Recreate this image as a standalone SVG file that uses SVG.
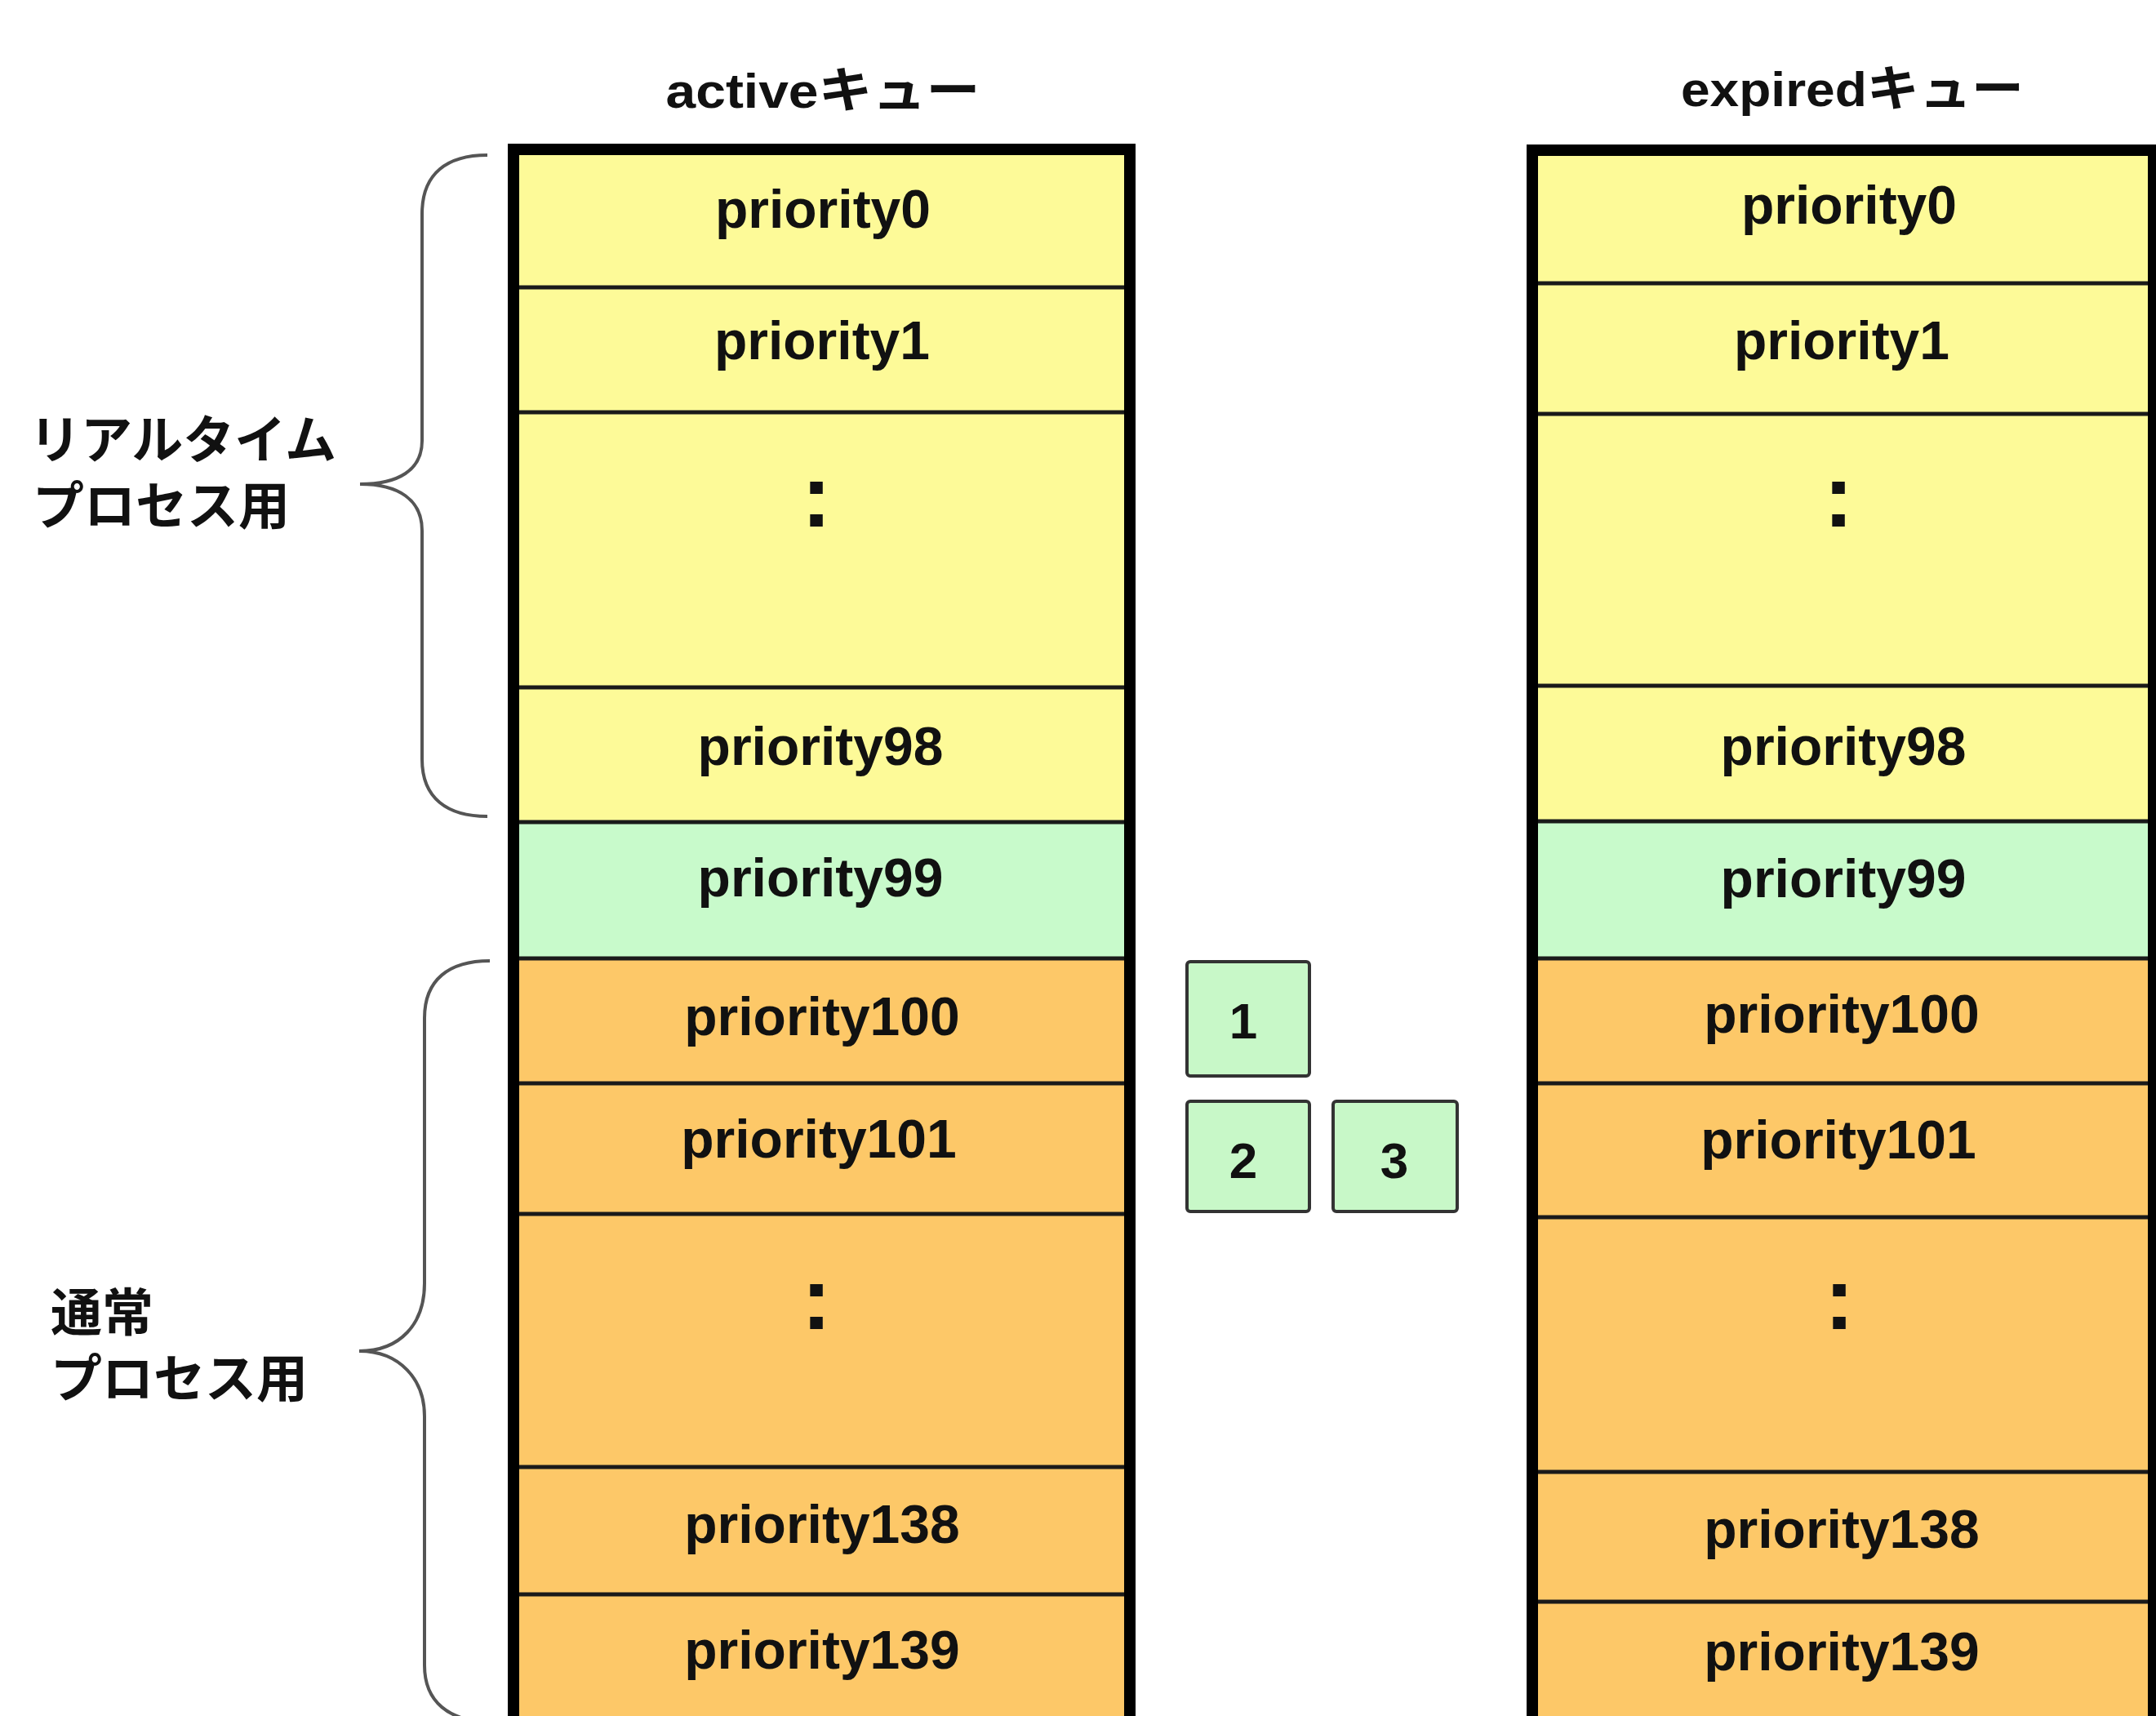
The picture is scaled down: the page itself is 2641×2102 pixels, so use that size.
<svg xmlns="http://www.w3.org/2000/svg" width="2641" height="2102" viewBox="0 0 2641 2102">
  <style>
    .title { font-family: "Liberation Sans", "Noto Sans CJK JP", sans-serif; font-weight: bold; font-size: 60px; fill: #111; text-anchor: middle; }
    .side { font-family: "Noto Sans CJK JP", sans-serif; font-weight: bold; font-size: 63px; fill: #111; }
    .lbl { font-family: "Liberation Sans", sans-serif; font-weight: bold; font-size: 66px; fill: #111; text-anchor: middle; }
    .dots { font-family: "Liberation Sans", sans-serif; font-weight: bold; font-size: 110px; fill: #111; text-anchor: middle; }
    .num { font-family: "Liberation Sans", sans-serif; font-weight: bold; font-size: 62px; fill: #111; text-anchor: middle; }
    .rt { fill: #FDFA98; }
    .mid { fill: #C8FACB; }
    .nrm { fill: #FDC868; }
    .sep { stroke: #1a1a1a; stroke-width: 5; fill: none; }
    .frame { stroke: #000; stroke-width: 14; fill: none; stroke-linejoin: miter; }
    .brace { stroke: #555; stroke-width: 4; fill: none; }
    .task { fill: #C8F8C8; stroke: #333; stroke-width: 4; }
  </style>

  <rect width="2641" height="2102" fill="#fff"/>

  <!-- active queue -->
  <g id="active-queue">
    <text class="title" x="1008" y="132" textLength="385" lengthAdjust="spacingAndGlyphs">activeキュー</text>
    <rect class="rt" x="629" y="183" width="755" height="659"/>
    <rect class="mid" x="629" y="842" width="755" height="165"/>
    <rect class="mid" x="629" y="1007" width="755" height="167"/>
    <rect class="rt" x="629" y="842" width="755" height="165"/>
    <rect class="nrm" x="629" y="1174" width="755" height="940"/>
    <g class="sep">
      <line x1="629" y1="352" x2="1384" y2="352"/>
      <line x1="629" y1="505" x2="1384" y2="505"/>
      <line x1="629" y1="842" x2="1384" y2="842"/>
      <line x1="629" y1="1007" x2="1384" y2="1007"/>
      <line x1="629" y1="1174" x2="1384" y2="1174"/>
      <line x1="629" y1="1327" x2="1384" y2="1327"/>
      <line x1="629" y1="1487" x2="1384" y2="1487"/>
      <line x1="629" y1="1797" x2="1384" y2="1797"/>
      <line x1="629" y1="1953" x2="1384" y2="1953"/>
    </g>
    <path class="frame" d="M629,2110 V183 H1384 V2110"/>
    <text class="lbl" x="1008" y="279">priority0</text>
    <text class="lbl" x="1007" y="440">priority1</text>
    <text class="dots" x="1000" y="645">:</text>
    <text class="lbl" x="1005" y="937">priority98</text>
    <text class="lbl" x="1005" y="1098">priority99</text>
    <text class="lbl" x="1007" y="1268">priority100</text>
    <text class="lbl" x="1003" y="1418">priority101</text>
    <text class="dots" x="1000" y="1628">:</text>
    <text class="lbl" x="1007" y="1890">priority138</text>
    <text class="lbl" x="1007" y="2044">priority139</text>
  </g>

  <!-- expired queue -->
  <g id="expired-queue">
    <text class="title" x="2269" y="130" textLength="420" lengthAdjust="spacingAndGlyphs">expiredキュー</text>
    <rect class="rt" x="1877" y="184" width="761" height="822"/>
    <rect class="mid" x="1877" y="1006" width="761" height="168"/>
    <rect class="nrm" x="1877" y="1174" width="761" height="940"/>
    <g class="sep">
      <line x1="1877" y1="347" x2="2638" y2="347"/>
      <line x1="1877" y1="507" x2="2638" y2="507"/>
      <line x1="1877" y1="840" x2="2638" y2="840"/>
      <line x1="1877" y1="1006" x2="2638" y2="1006"/>
      <line x1="1877" y1="1174" x2="2638" y2="1174"/>
      <line x1="1877" y1="1327" x2="2638" y2="1327"/>
      <line x1="1877" y1="1491" x2="2638" y2="1491"/>
      <line x1="1877" y1="1803" x2="2638" y2="1803"/>
      <line x1="1877" y1="1962" x2="2638" y2="1962"/>
    </g>
    <path class="frame" d="M1877,2110 V184 H2638 V2110"/>
    <text class="lbl" x="2265" y="274">priority0</text>
    <text class="lbl" x="2256" y="440">priority1</text>
    <text class="dots" x="2252" y="645">:</text>
    <text class="lbl" x="2258" y="937">priority98</text>
    <text class="lbl" x="2258" y="1099">priority99</text>
    <text class="lbl" x="2256" y="1265">priority100</text>
    <text class="lbl" x="2252" y="1419">priority101</text>
    <text class="dots" x="2253" y="1628">:</text>
    <text class="lbl" x="2256" y="1896">priority138</text>
    <text class="lbl" x="2256" y="2046">priority139</text>
  </g>

  <!-- tasks waiting in priority100 / priority101 -->
  <g id="task-1">
    <rect class="task" x="1454" y="1178" width="150" height="140" rx="4"/>
    <text class="num" x="1523" y="1272">1</text>
  </g>
  <g id="task-2">
    <rect class="task" x="1454" y="1349" width="150" height="135" rx="4"/>
    <text class="num" x="1523" y="1443">2</text>
  </g>
  <g id="task-3">
    <rect class="task" x="1633" y="1349" width="152" height="135" rx="4"/>
    <text class="num" x="1708" y="1443">3</text>
  </g>

  <!-- range labels -->
  <g id="label-realtime">
    <text class="side" x="36" y="561">リアルタイム</text>
    <text class="side" x="40" y="642">プロセス用</text>
  </g>
  <g id="label-normal">
    <text class="side" x="62" y="1630">通常</text>
    <text class="side" x="62" y="1711">プロセス用</text>
  </g>

  <!-- braces -->
  <g id="connectors">
    <path class="brace" d="M597,190 C548,190 517,212 517,262 L517,540 C517,576 488,593 441,593 C488,593 517,612 517,650 L517,930 C517,978 548,1000 597,1000"/>
    <path class="brace" d="M600,1177 C550,1177 520,1200 520,1247 L520,1572 C520,1622 490,1655 440,1655 C490,1655 520,1690 520,1735 L520,2040 C520,2085 550,2108 600,2110"/>
  </g>
</svg>
